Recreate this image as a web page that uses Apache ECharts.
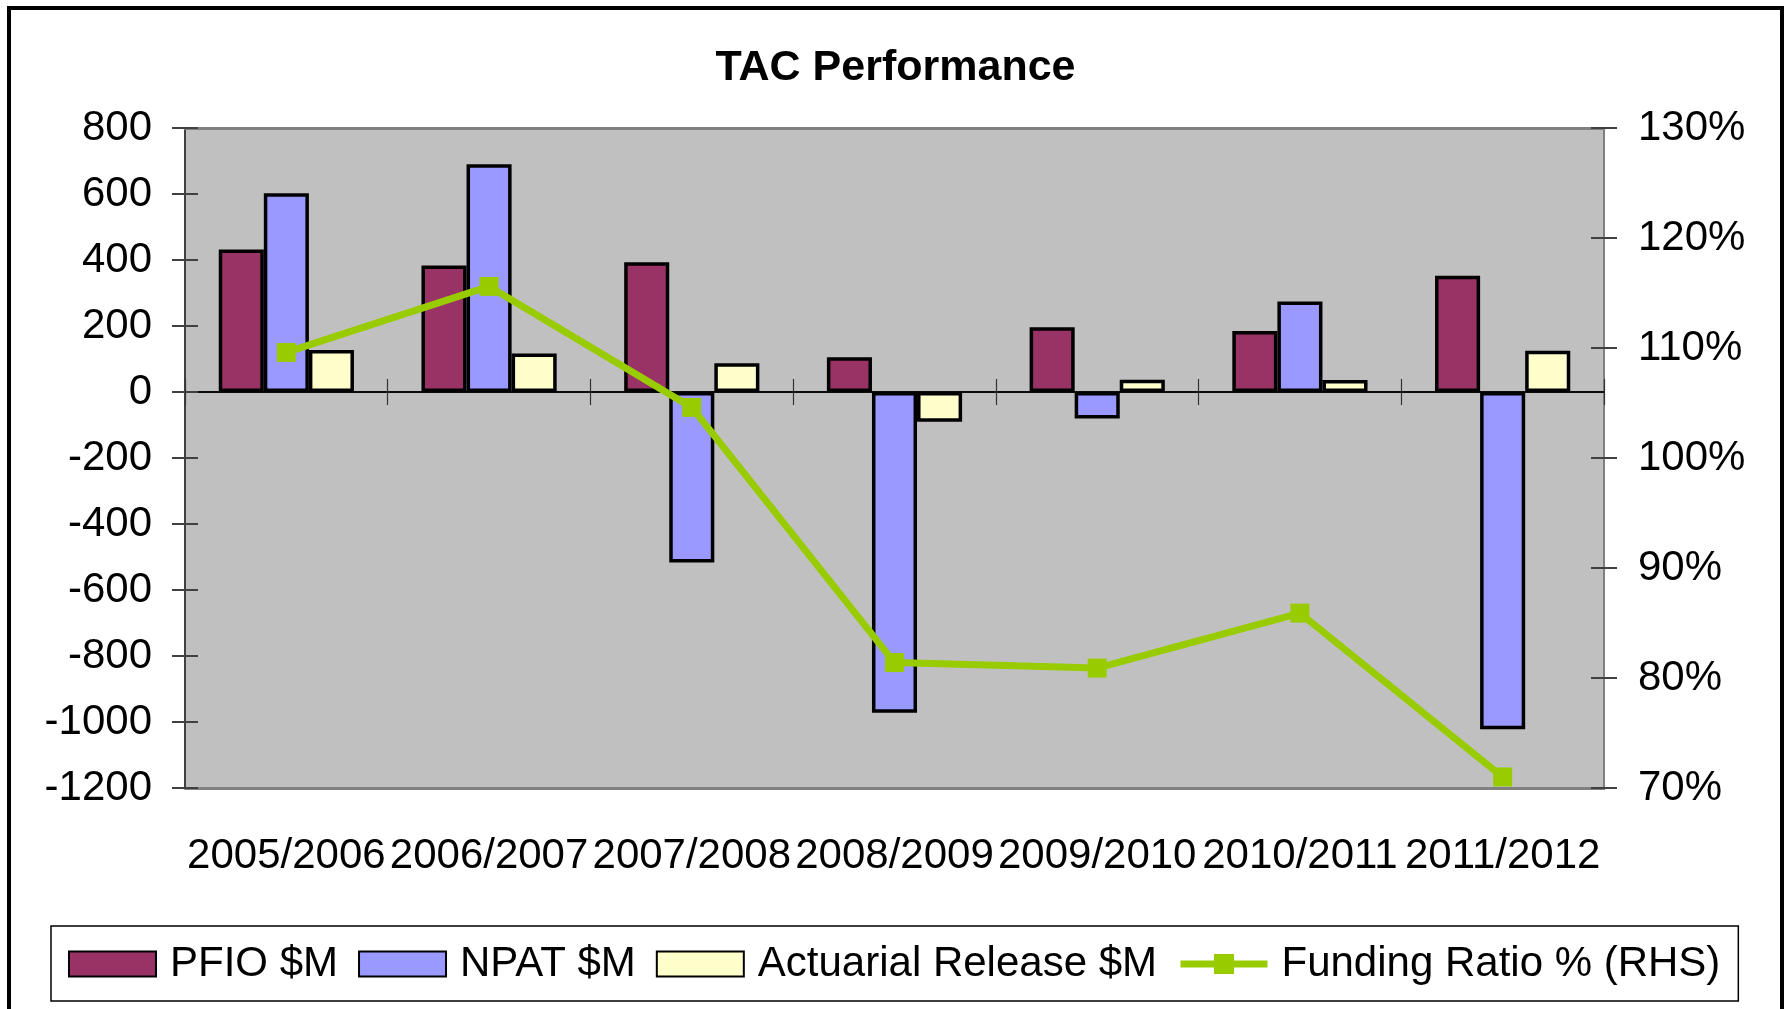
<!DOCTYPE html>
<html>
<head>
<meta charset="utf-8">
<script src="https://cdn.jsdelivr.net/npm/echarts@6/dist/echarts.min.js"></script>
<style>
html,body{margin:0;padding:0;background:#fff;}
#c{width:1791px;height:1009px;}
</style>
</head>
<body>
<div id="c"></div>
<script>
var categories = ['2005/2006','2006/2007','2007/2008','2008/2009','2009/2010','2010/2011','2011/2012'];
var pfio = [432, 383, 393, 105, 196, 185, 352];
var npat = [602, 690, -517, -972, -80, 274, -1022];
var actuarial = [127, 117, 87, -90, 37, 36, 125];
var fundingRatio = [109.6, 115.6, 104.6, 81.4, 80.9, 85.9, 71.0];
var leftTicks = {min: -1200, max: 800, interval: 200};
var rightTicks = {min: 70, max: 130, interval: 10};

var FONT = '"Liberation Sans", Arial, sans-serif';
var FS = 42;
var chart = echarts.init(document.getElementById('c'), null, {renderer: 'canvas'});

function hiddenCat(extra) {
  var a = {
    type: 'category', data: categories, boundaryGap: true, gridIndex: 0,
    axisLabel: {show: false}, axisTick: {show: false}, splitLine: {show: false},
    axisLine: {show: false}
  };
  for (var k in extra) a[k] = extra[k];
  return a;
}

var option = {
  backgroundColor: '#ffffff',
  animation: false,
  title: {
    text: 'TAC Performance', left: 'center', top: 42,
    textStyle: {fontFamily: FONT, fontSize: 43, fontWeight: 'bold', color: '#000'}
  },
  grid: {
    left: 185, right: 187, top: 128, bottom: 221,
    show: true, backgroundColor: '#C0C0C0', borderWidth: 0
  },
  legend: {
    left: 51, top: 926, orient: 'horizontal',
    padding: [14, 18, 13, 17],
    borderColor: '#000', borderWidth: 1.5, backgroundColor: '#fff',
    itemWidth: 87, itemHeight: 25, itemGap: 20,
    lineStyle: {width: 7},
    textStyle: {fontFamily: FONT, fontSize: FS, color: '#000', lineHeight: 48, padding: [0, 0, 0, 9]},
    data: [
      {name: 'PFIO $M', icon: 'rect'},
      {name: 'NPAT $M', icon: 'rect'},
      {name: 'Actuarial Release $M', icon: 'rect'},
      {name: 'Funding Ratio % (RHS)'}
    ]
  },
  xAxis: [
    hiddenCat({
      position: 'bottom',
      axisLine: {show: true, onZero: false, lineStyle: {color: '#808080', width: 3}},
      axisLabel: {show: true, interval: 0, margin: 47, fontFamily: FONT, fontSize: FS, color: '#000'}
    }),
    hiddenCat({
      position: 'top',
      axisLine: {show: true, onZero: false, lineStyle: {color: '#808080', width: 3}}
    }),
    hiddenCat({
      position: 'bottom',
      axisLine: {show: true, onZero: true, onZeroAxisIndex: 0, lineStyle: {color: '#000', width: 1.5}},
      axisTick: {show: true, inside: true, length: 13, lineStyle: {color: '#333', width: 1.2}}
    }),
    hiddenCat({
      position: 'bottom',
      axisLine: {show: true, onZero: true, onZeroAxisIndex: 0, lineStyle: {color: '#000', width: 1.5}},
      axisTick: {show: true, inside: false, length: 13, lineStyle: {color: '#333', width: 1.2}}
    })
  ],
  yAxis: [
    {
      type: 'value', position: 'left', min: leftTicks.min, max: leftTicks.max, interval: leftTicks.interval,
      axisLine: {show: true, lineStyle: {color: '#404040', width: 2}},
      axisTick: {show: true, inside: false, length: 13, lineStyle: {color: '#404040', width: 2}},
      axisLabel: {margin: 33, fontFamily: FONT, fontSize: FS, color: '#000',
        formatter: function (v) { return String(v); }},
      splitLine: {show: false}
    },
    {
      type: 'value', position: 'right', min: rightTicks.min, max: rightTicks.max, interval: rightTicks.interval,
      axisLine: {show: true, lineStyle: {color: '#808080', width: 2}},
      axisTick: {show: true, inside: false, length: 13, lineStyle: {color: '#404040', width: 2}},
      axisLabel: {margin: 34, fontFamily: FONT, fontSize: FS, color: '#000',
        formatter: function (v) { return v + '%'; }},
      splitLine: {show: false}
    },
    {
      type: 'value', position: 'left', min: leftTicks.min, max: leftTicks.max, interval: leftTicks.interval,
      axisLine: {show: false},
      axisTick: {show: true, inside: true, length: 13, lineStyle: {color: '#404040', width: 2}},
      axisLabel: {show: false}, splitLine: {show: false}
    },
    {
      type: 'value', position: 'right', min: rightTicks.min, max: rightTicks.max, interval: rightTicks.interval,
      axisLine: {show: false},
      axisTick: {show: true, inside: true, length: 13, lineStyle: {color: '#404040', width: 2}},
      axisLabel: {show: false}, splitLine: {show: false}
    }
  ],
  series: [
    {
      name: 'PFIO $M', type: 'bar', data: pfio, xAxisIndex: 0, yAxisIndex: 0,
      barGap: '0%', barCategoryGap: '33.3%', z: 3,
      itemStyle: {color: '#993366', borderColor: '#000', borderWidth: 3.5}
    },
    {
      name: 'NPAT $M', type: 'bar', data: npat, xAxisIndex: 0, yAxisIndex: 0,
      barGap: '0%', barCategoryGap: '33.3%', z: 3,
      itemStyle: {color: '#9999FF', borderColor: '#000', borderWidth: 3.5}
    },
    {
      name: 'Actuarial Release $M', type: 'bar', data: actuarial, xAxisIndex: 0, yAxisIndex: 0,
      barGap: '0%', barCategoryGap: '33.3%', z: 3,
      itemStyle: {color: '#FFFFCC', borderColor: '#000', borderWidth: 3.5}
    },
    {
      name: 'Funding Ratio % (RHS)', type: 'line', data: fundingRatio, xAxisIndex: 0, yAxisIndex: 1,
      symbol: 'rect', symbolSize: 19, z: 10,
      lineStyle: {color: '#99CC00', width: 7},
      itemStyle: {color: '#99CC00', borderWidth: 0}
    }
  ],
  graphic: [
    {
      type: 'rect', z: -1, silent: true,
      shape: {x: 9, y: 8, width: 1773, height: 1100},
      style: {fill: 'none', stroke: '#000', lineWidth: 4}
    }
  ]
};
chart.setOption(option);
</script>
</body>
</html>
